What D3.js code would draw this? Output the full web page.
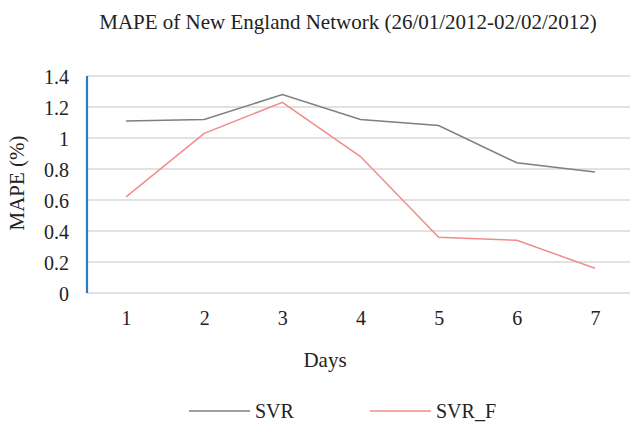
<!DOCTYPE html>
<html>
<head>
<meta charset="utf-8">
<script src="https://cdn.jsdelivr.net/npm/d3@7"></script>
<style>
  html, body { margin: 0; padding: 0; background: #fff; }
  svg { display: block; }
  svg text { font-family: "Liberation Serif", "DejaVu Serif", serif; fill: #222; }
</style>
</head>
<body>
<svg id="chart" width="630" height="433"></svg>
<script>
// Forecast error by day for the two models
const days = ["1", "2", "3", "4", "5", "6", "7"];
const svr = [1.11, 1.12, 1.28, 1.12, 1.08, 0.84, 0.78];
const svrF = [0.62, 1.03, 1.23, 0.88, 0.36, 0.34, 0.16];
const yTicks = [0, 0.2, 0.4, 0.6, 0.8, 1, 1.2, 1.4];
const seriesNames = ["SVR", "SVR_F"];
const seriesColors = ["#7f7f7f", "#f08c8c"];

const svg = d3.select("#chart");
const plot = { left: 87, right: 634, top: 76, bottom: 293 };

const x = d3.scalePoint().domain(days).range([plot.left, plot.right]).padding(0.5);
const y = d3.scaleLinear().domain([0, 1.4]).range([plot.bottom, plot.top]);

// Horizontal gridlines
svg.append("g").selectAll("line").data(yTicks).join("line")
  .attr("x1", plot.left).attr("x2", 630)
  .attr("y1", d => y(d)).attr("y2", d => y(d))
  .attr("stroke", "#d9d9d9").attr("stroke-width", 1.5);

// Y axis labels
const yAxis = d3.axisLeft(y).tickValues(yTicks).tickSize(0).tickPadding(0)
  .tickFormat(d => d3.format("~g")(d));
const gy = svg.append("g").attr("transform", `translate(69,0)`).call(yAxis);
gy.select(".domain").remove();
gy.attr("font-family", null).attr("font-size", null);
gy.selectAll("text").style("font-size", "20px").attr("dy", "0.35em");

// Vertical axis line
svg.append("line")
  .attr("x1", plot.left).attr("x2", plot.left)
  .attr("y1", y(1.4)).attr("y2", y(0))
  .attr("stroke", "#2e7bbf").attr("stroke-width", 2.2);

// X axis labels
const xAxis = d3.axisBottom(x).tickSize(0).tickPadding(0);
const gx = svg.append("g").attr("transform", `translate(0,${plot.bottom + 18})`).call(xAxis);
gx.select(".domain").remove();
gx.attr("font-family", null).attr("font-size", null);
gx.selectAll("text").style("font-size", "20px").attr("dy", "0.71em");

// Lines
const line = d3.line().x((d, i) => x(days[i])).y(d => y(d));
[svr, svrF].forEach((vals, k) => {
  svg.append("path").datum(vals)
    .attr("d", line)
    .attr("fill", "none")
    .attr("stroke", seriesColors[k])
    .attr("stroke-width", 1.5);
});

// Title
svg.append("text").attr("x", 348).attr("y", 29)
  .attr("text-anchor", "middle").style("font-size", "21px")
  .text("MAPE of New England Network (26/01/2012-02/02/2012)");

// Axis titles
svg.append("text").attr("x", 325).attr("y", 367)
  .attr("text-anchor", "middle").style("font-size", "21px")
  .text("Days");
svg.append("text")
  .attr("transform", "translate(24,183) rotate(-90)")
  .attr("text-anchor", "middle").style("font-size", "21px")
  .text("MAPE (%)");

// Legend
const legendX = [189, 370];
const legend = svg.append("g");
seriesNames.forEach((name, k) => {
  legend.append("line")
    .attr("x1", legendX[k]).attr("x2", legendX[k] + 61)
    .attr("y1", 411).attr("y2", 411)
    .attr("stroke", seriesColors[k]).attr("stroke-width", 1.5);
  legend.append("text")
    .attr("x", legendX[k] + 66).attr("y", 418)
    .style("font-size", "20px")
    .text(name);
});
</script>
</body>
</html>
